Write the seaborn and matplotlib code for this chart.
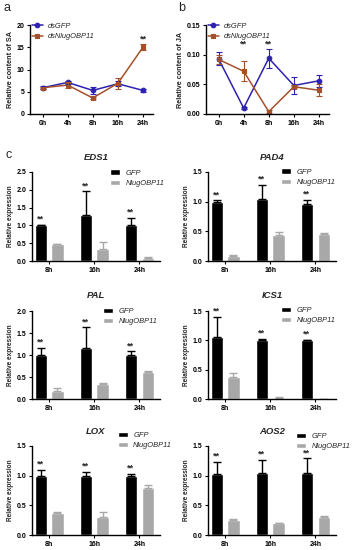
import numpy as np
import pandas as pd
import matplotlib
matplotlib.use("Agg")
import matplotlib.pyplot as plt
import matplotlib.ticker as mticker
import seaborn as sns

sns.set_theme(style="ticks")
plt.rcParams['font.family'] = ['Liberation Sans', 'DejaVu Sans']

# ---------------- data ----------------
times_line = ["0h", "4h", "8h", "16h", "24h"]
line_groups = ["dsGFP", "dsNlugOBP11"]
sa_gfp = [5.9, 7.1, 5.3, 6.8, 5.3]
sa_gfp_err = [0.3, 0.4, 0.8, 0.6, 0.4]
sa_obp = [5.9, 6.5, 3.6, 6.9, 15.0]
sa_obp_err = [0.2, 0.6, 0.3, 1.2, 0.7]
sa_stars = ["", "", "", "", "**"]

ja_gfp = [0.093, 0.010, 0.094, 0.048, 0.056]
ja_gfp_err = [0.011, 0.001, 0.016, 0.015, 0.010]
ja_obp = [0.092, 0.072, 0.004, 0.046, 0.040]
ja_obp_err = [0.008, 0.017, 0.002, 0.003, 0.010]
ja_stars = ["", "**", "**", "", ""]

times_bar = ["8h", "16h", "24h"]
bar_groups = ["GFP", "NlugOBP11"]
genes = ["EDS1", "PAD4", "PAL", "ICS1", "LOX", "AOS2"]
gfp_vals = {
    "EDS1": [1.00, 1.28, 1.02], "PAD4": [1.00, 1.05, 0.96], "PAL": [1.01, 1.15, 1.00],
    "ICS1": [1.05, 1.00, 1.00], "LOX": [1.00, 1.00, 1.00], "AOS2": [1.03, 1.05, 1.04]}
gfp_errs = {
    "EDS1": [0.02, 0.68, 0.20], "PAD4": [0.02, 0.23, 0.07], "PAL": [0.15, 0.48, 0.08],
    "ICS1": [0.35, 0.03, 0.01], "LOX": [0.10, 0.07, 0.03], "AOS2": [0.20, 0.22, 0.25]}
obp_vals = {
    "EDS1": [0.47, 0.35, 0.08], "PAD4": [0.09, 0.43, 0.46], "PAL": [0.19, 0.34, 0.62],
    "ICS1": [0.38, 0.02, 0.00], "LOX": [0.37, 0.30, 0.79], "AOS2": [0.25, 0.20, 0.31]}
obp_errs = {
    "EDS1": [0.02, 0.18, 0.02], "PAD4": [0.01, 0.06, 0.02], "PAL": [0.06, 0.03, 0.01],
    "ICS1": [0.06, 0.02, 0.00], "LOX": [0.01, 0.08, 0.05], "AOS2": [0.02, 0.01, 0.01]}
ymaxes = {"EDS1": 2.5, "PAD4": 1.5, "PAL": 2.0, "ICS1": 1.5, "LOX": 1.5, "AOS2": 1.5}
bar_stars = ["**", "**", "**"]

line_colors = ["#2e22b0", "#a4502a"]
bar_colors = ["#000000", "#a8a8a8"]

W, H = 352, 550
fig = plt.figure(figsize=(W / 100, H / 100), dpi=100)

TICK_FS = 5.0
LEG_FS = 5.4


def px_axes(x0, y0, x1, y1):
    return fig.add_axes([x0 / W, 1 - y1 / H, (x1 - x0) / W, (y1 - y0) / H])


def style_ax(ax):
    sns.despine(ax=ax)
    for s in ("left", "bottom"):
        ax.spines[s].set_linewidth(1.0)
        ax.spines[s].set_color("black")
    ax.tick_params(axis="both", labelsize=TICK_FS, width=0.8, length=2.5, pad=1.5, colors="black")
    for lab in ax.get_xticklabels() + ax.get_yticklabels():
        lab.set_fontweight("bold")


def line_panel(ax, gfp, gerr, obp, oerr, stars, ylabel, ymax, step, fmt):
    df = pd.DataFrame({
        "time": times_line * 2,
        "val": gfp + obp,
        "group": [line_groups[0]] * 5 + [line_groups[1]] * 5})
    sns.pointplot(data=df, x="time", y="val", hue="group", order=times_line,
                  hue_order=line_groups, palette=line_colors, markers=["o", "s"],
                  linestyles=["-", "-"], errorbar=None, ax=ax,
                  markersize=3.3, linewidth=1.1)
    xs = np.arange(len(times_line))
    for vals, errs, c in ((gfp, gerr, line_colors[0]), (obp, oerr, line_colors[1])):
        ax.errorbar(xs, vals, yerr=errs, fmt="none", ecolor=c, elinewidth=0.8, capsize=2.0, capthick=0.8)
    tops = [max(gfp[i] + gerr[i], obp[i] + oerr[i]) for i, s in enumerate(stars) if s]
    star_y = max(tops) + ymax * 0.005
    for i, s in enumerate(stars):
        if s:
            ax.text(xs[i], star_y, s, ha="center", va="bottom", fontsize=6.5, fontweight="bold")
    ax.set_ylim(0, ymax)
    ax.set_xlim(-0.5, 4.4)
    ax.set_yticks(np.arange(0, ymax + step / 2, step))
    ax.yaxis.set_major_formatter(mticker.FormatStrFormatter(fmt))
    ax.set_xlabel("")
    ax.set_ylabel(ylabel, fontsize=5.2, fontweight="bold", labelpad=2)
    h, l = ax.get_legend_handles_labels()
    ax.legend(h, l, loc="upper left", bbox_to_anchor=(0.015, 1.03), frameon=False,
              prop={"size": LEG_FS, "style": "italic"}, handlelength=1.5,
              borderpad=0.0, borderaxespad=0.0, labelspacing=0.45, handletextpad=0.6)
    style_ax(ax)


def bar_panel(ax, gene, leg_x, leg_y):
    gv, ge, ov, oe = gfp_vals[gene], gfp_errs[gene], obp_vals[gene], obp_errs[gene]
    ymax = ymaxes[gene]
    df = pd.DataFrame({
        "time": times_bar * 2,
        "val": gv + ov,
        "group": [bar_groups[0]] * 3 + [bar_groups[1]] * 3})
    sns.barplot(data=df, x="time", y="val", hue="group", order=times_bar,
                hue_order=bar_groups, palette=bar_colors, width=0.74, gap=0.27,
                errorbar=None, ax=ax, saturation=1)
    for cont, vals, errs, c in zip(ax.containers, (gv, ov), (ge, oe), bar_colors):
        xs = [p.get_x() + p.get_width() / 2 for p in cont.patches]
        ax.errorbar(xs, vals, yerr=[np.zeros(len(errs)), errs], fmt="none",
                    ecolor=c, elinewidth=1.0, capsize=2.6, capthick=1.0)
        if c == bar_colors[0]:
            for x, v, e, s in zip(xs, vals, errs, bar_stars):
                ax.text(x, v + e + ymax * 0.012, s, ha="center", va="bottom",
                        fontsize=6.5, fontweight="bold")
    ax.set_ylim(0, ymax)
    ax.set_xlim(-0.38, 2.46)
    ax.set_yticks(np.arange(0, ymax + 0.01, 0.5))
    ax.yaxis.set_major_formatter(mticker.FormatStrFormatter("%.1f"))
    ax.set_xlabel("")
    ax.set_ylabel("Relative expression", fontsize=4.7, fontweight="bold", labelpad=2)
    ax.set_title(gene, fontsize=6.8, fontweight="bold", style="italic", pad=9)
    h, l = ax.get_legend_handles_labels()
    ax.legend(h, l, loc="upper left", bbox_to_anchor=(leg_x, leg_y), frameon=False,
              prop={"size": LEG_FS, "style": "italic"}, handlelength=1.35, handleheight=0.7,
              borderpad=0.0, borderaxespad=0.0, labelspacing=0.4, handletextpad=0.7)
    style_ax(ax)


ax_a = px_axes(30, 25, 153, 114)
line_panel(ax_a, sa_gfp, sa_gfp_err, sa_obp, sa_obp_err, sa_stars,
           "Relative content of SA", 20, 5, "%d")
ax_b = px_axes(206, 25, 329, 114)
line_panel(ax_b, ja_gfp, ja_gfp_err, ja_obp, ja_obp_err, ja_stars,
           "Relative content of JA", 0.15, 0.05, "%.2f")

rows = [(172, 261), (311, 399), (446, 535)]
leg_pos = {"EDS1": (0.61, 1.03), "PAD4": (0.57, 1.04), "PAL": (0.555, 1.035),
           "ICS1": (0.57, 1.05), "LOX": (0.67, 1.16), "AOS2": (0.69, 1.15)}
for r, (y0, y1) in enumerate(rows):
    for c, x0 in enumerate((32, 208)):
        gene = genes[r * 2 + c]
        ax = px_axes(x0, y0, x0 + 128, y1)
        bar_panel(ax, gene, *leg_pos[gene])

fig.text(3 / W, 1 - 8 / H, "a", fontsize=9, va="center")
fig.text(178 / W, 1 - 8 / H, "b", fontsize=9, va="center")
fig.text(5 / W, 1 - 155 / H, "c", fontsize=9, va="center")

fig.savefig("out.png", dpi=100)
